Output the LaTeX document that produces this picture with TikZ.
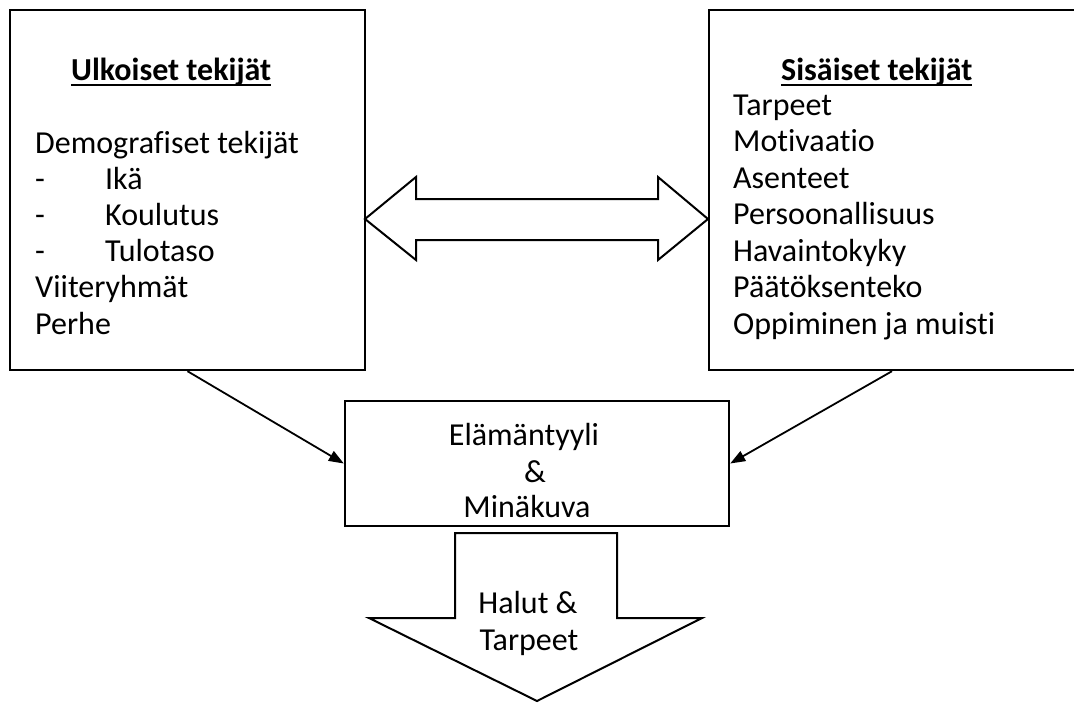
\documentclass[tikz,border=0pt]{standalone}
\usepackage{fontspec}
\setmainfont[Ligatures=NoCommon]{Carlito}
\usetikzlibrary{arrows.meta}

\newcommand{\undertitle}[1]{\setbox0\hbox{#1}\rlap{\rule[-5.8pt]{\wd0}{1.6pt}}\box0}
\newcommand{\dashitem}{\makebox[70pt][l]{-}}

\tikzset{
  box/.style={draw, line width=2.4pt, inner sep=0pt},
  conn/.style={line width=1.8pt, -{Triangle[length=15pt,width=11pt]}},
  fat/.style={draw, line width=2pt, line join=miter},
  txt/.style={anchor=base west, inner sep=0pt, font=\fontsize{32}{36}\selectfont},
  mid/.style={anchor=base, inner sep=0pt, font=\fontsize{32}{36}\selectfont},
}

\begin{document}
\begin{tikzpicture}[x=1pt,y=-1pt]
  \useasboundingbox (0,0) rectangle (1074,702);

  % the three boxes
  \node[box, minimum width=355pt, minimum height=360pt] (ulko) at (187.5,190) {};
  \node[box, minimum width=366pt, minimum height=360pt] (sisa) at (892,190) {};
  \node[box, minimum width=384pt, minimum height=125pt] (elama) at (537,463.5) {};

  % left box
  \node[txt, font=\fontsize{32}{36}\selectfont\bfseries] (ulkotitle) at (71,80) {\undertitle{Ulkoiset tekijät}};
  \foreach \txt [count=\i from 0] in {Demografiset tekijät, {\dashitem Ikä}, {\dashitem Koulutus},
      {\dashitem Tulotaso}, Viiteryhmät, Perhe}
    \node[txt] (u\i) at (35,153+36.2*\i) {\txt};

  % right box
  \node[txt, font=\fontsize{32}{36}\selectfont\bfseries] (sisatitle) at (781,80) {\undertitle{Sisäiset tekijät}};
  \foreach \txt [count=\i from 0] in {Tarpeet, Motivaatio, Asenteet, Persoonallisuus,
      Havaintokyky, Päätöksenteko, Oppiminen ja muisti}
    \node[txt] (s\i) at (733,115+36.5*\i) {\txt};

  % middle box
  \node[mid] (m1) at (524,445) {Elämäntyyli};
  \node[mid] (m2) at (535,482) {\&};
  \node[mid] (m3) at (527,517) {Minäkuva};

  % double arrow between the boxes
  \draw[fat] (365,219) -- (416,177) -- (416,199) -- (658,199) -- (658,177) -- (708,219)
    -- (658,260) -- (658,240) -- (416,240) -- (416,260) -- cycle;

  % connectors
  \draw[conn] (ulko.south) -- (elama.west);
  \draw[conn] (sisa.south) -- (elama.east);

  % down arrow
  \draw[fat] (455,533) -- (617,533) -- (617,618) -- (702,618) -- (537,701)
    -- (369,618) -- (455,618) -- cycle;
  \node[mid] (h1) at (528,613) {Halut \&};
  \node[mid] (h2) at (529,650) {Tarpeet};
\end{tikzpicture}
\end{document}
